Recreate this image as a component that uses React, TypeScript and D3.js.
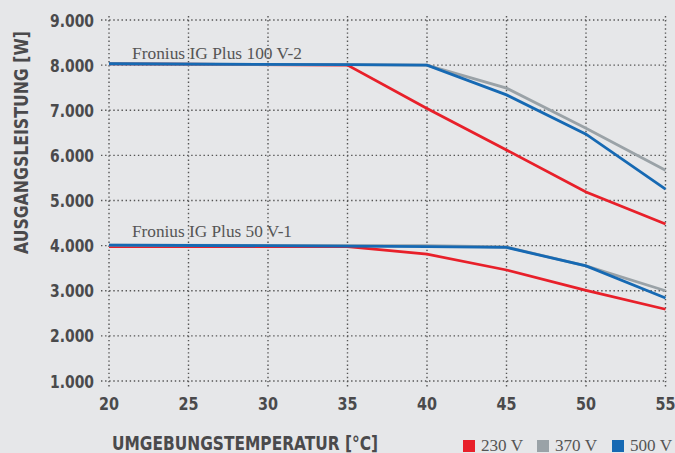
import React from "react";
import * as d3 from "d3";

const temps = [20, 35, 40, 45, 50, 55];
const xTicks = [20, 25, 30, 35, 40, 45, 50, 55];
const yTicks = [1000, 2000, 3000, 4000, 5000, 6000, 7000, 8000, 9000];

const big230 = [8030, 8000, 7040, 6120, 5190, 4480];
const big370 = [8030, 8010, 8000, 7490, 6600, 5670];
const big500 = [8030, 8010, 8000, 7340, 6470, 5250];

const small230 = [3980, 3980, 3810, 3460, 3010, 2590];
const small370 = [4010, 4000, 4000, 3970, 3550, 3000];
const small500 = [4010, 3990, 3980, 3960, 3550, 2840];

const seriesNames = ["230 V", "370 V", "500 V"];
const seriesColors = ["#e8202a", "#9aa2a7", "#1669b3"];
const modelLabels = ["Fronius IG Plus 100 V-2", "Fronius IG Plus 50 V-1"];

const W = 675;
const H = 453;

export default function App() {
  const x = d3.scaleLinear().domain([20, 55]).range([109, 665.5]);
  const y = d3.scaleLinear().domain([1000, 9000]).range([381, 20]);
  const line = d3
    .line<number>()
    .x((_, i) => x(temps[i]))
    .y((d) => y(d));

  const groups = [
    [big230, big370, big500],
    [small230, small370, small500],
  ];
  const labelFont = "'DejaVu Sans Condensed', 'DejaVu Sans', sans-serif";
  const serif = "'Liberation Serif', 'DejaVu Serif', serif";
  const textColor = "#4a4a4c";
  const legendX = [463, 537, 612];

  return (
    <svg
      width={W}
      height={H}
      style={{ position: "absolute", left: 0, top: 0, background: "#e6e7e9" }}
    >
      <rect x={0} y={0} width={W} height={H} fill="#e6e7e9" />
      {yTicks.map((t) => (
        <line
          key={"gy" + t}
          x1={101}
          x2={667}
          y1={y(t)}
          y2={y(t)}
          stroke="#555"
          strokeWidth={1.4}
          strokeDasharray="1.4 2.7"
        />
      ))}
      {xTicks.map((t) => (
        <line
          key={"gx" + t}
          x1={x(t)}
          x2={x(t)}
          y1={16}
          y2={389}
          stroke="#555"
          strokeWidth={1.4}
          strokeDasharray="1.4 2.7"
        />
      ))}
      {yTicks.map((t) => (
        <text
          key={"ty" + t}
          x={94}
          y={y(t) + 6.5}
          textAnchor="end"
          fontFamily={labelFont}
          fontWeight="bold"
          fontSize={17.5}
          textLength={44}
          lengthAdjust="spacingAndGlyphs"
          fill={textColor}
        >
          {d3.format(",")(t).replace(",", ".")}
        </text>
      ))}
      {xTicks.map((t) => (
        <text
          key={"tx" + t}
          x={x(t)}
          y={409.5}
          textAnchor="middle"
          fontFamily={labelFont}
          fontWeight="bold"
          fontSize={18.5}
          textLength={20}
          lengthAdjust="spacingAndGlyphs"
          fill={textColor}
        >
          {t}
        </text>
      ))}
      {groups.map((g, gi) =>
        g.map((vals, si) => (
          <path
            key={gi + "-" + si}
            d={line(vals) || ""}
            fill="none"
            stroke={seriesColors[si]}
            strokeWidth={2.8}
          />
        ))
      )}
      <text
        x={132}
        y={59}
        fontFamily={serif}
        fontSize={17}
        textLength={170}
        lengthAdjust="spacingAndGlyphs"
        fill="#555"
      >
        {modelLabels[0]}
      </text>
      <text
        x={132}
        y={236.5}
        fontFamily={serif}
        fontSize={17}
        textLength={160}
        lengthAdjust="spacingAndGlyphs"
        fill="#555"
      >
        {modelLabels[1]}
      </text>
      <text
        transform={`translate(27.5,142.5) rotate(-90)`}
        textAnchor="middle"
        fontFamily={labelFont}
        fontWeight="bold"
        fontSize={20}
        textLength={223}
        lengthAdjust="spacingAndGlyphs"
        fill={textColor}
      >
        AUSGANGSLEISTUNG [W]
      </text>
      <text
        x={112}
        y={450}
        fontFamily={labelFont}
        fontWeight="bold"
        fontSize={19}
        textLength={266}
        lengthAdjust="spacingAndGlyphs"
        fill={textColor}
      >
        UMGEBUNGSTEMPERATUR [°C]
      </text>
      {seriesNames.map((n, i) => {
        const lx = legendX[i];
        return (
          <g key={n}>
            <rect x={lx} y={440} width={12} height={12} fill={seriesColors[i]} />
            <text
              x={lx + 18}
              y={450.5}
              fontFamily={serif}
              fontSize={16.5}
              textLength={42}
              lengthAdjust="spacingAndGlyphs"
              fill="#555"
            >
              {n}
            </text>
          </g>
        );
      })}
    </svg>
  );
}
